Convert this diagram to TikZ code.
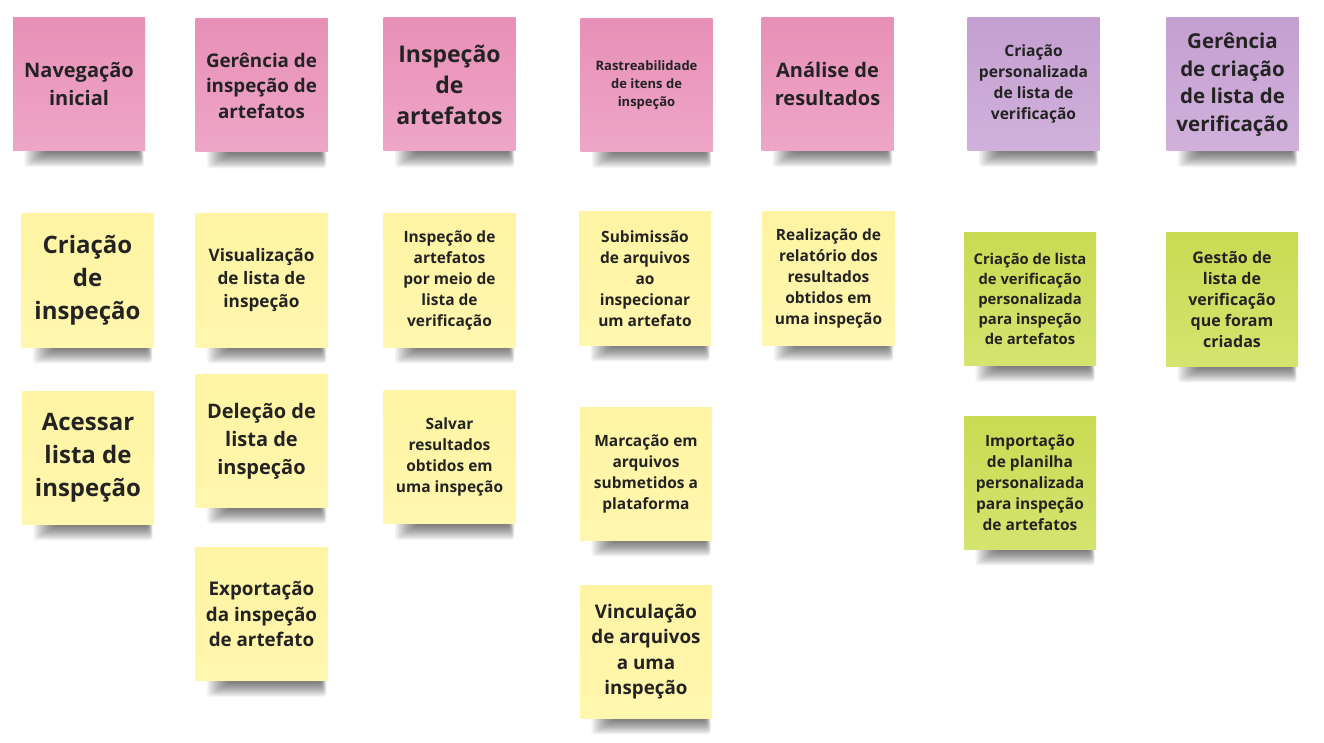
\documentclass[tikz,border=0pt]{standalone}
\usepackage{fontspec}
\setmainfont{Open Sans}
\usepackage{tikz}
\usetikzlibrary{calc,backgrounds}

\definecolor{PinkTop}{HTML}{E890B7}
\definecolor{PinkBot}{HTML}{EEA6C7}
\definecolor{LilacTop}{HTML}{C49FD0}
\definecolor{LilacBot}{HTML}{D1B1DC}
\definecolor{YellowTop}{HTML}{FEF4A3}
\definecolor{YellowBot}{HTML}{FFF7AE}
\definecolor{GreenTop}{HTML}{C9DA52}
\definecolor{GreenBot}{HTML}{D4E470}
\definecolor{NoteText}{HTML}{232323}

\newcommand\fsz[2]{\fontsize{#1}{#2}\selectfont}
\newcommand\noteshadow[1]{% note name

  \foreach \k in {1,...,16}
    \fill[black,opacity=0.038,rounded corners=3pt] ($(#1.south west)+(34-1.4*\k,-3)$) rectangle ($(#1.south east)+(-7+0.35*\k,1+0.95*\k)$);

}

\begin{document}
\begin{tikzpicture}[x=1pt,y=-1pt]
		\tikzstyle{note}=[minimum width=132pt, minimum height=133pt,
								  inner sep=0pt, align=center, text=NoteText]
		\tikzstyle{pink}=[note,top color=PinkTop,bottom color=PinkBot]
		\tikzstyle{lilac}=[note,top color=LilacTop,bottom color=LilacBot]
		\tikzstyle{yellow}=[note,top color=YellowTop,bottom color=YellowBot]
		\tikzstyle{green}=[note,top color=GreenTop,bottom color=GreenBot]

		\tikzstyle{txtXL}=[font=\bfseries\fsz{24}{33}]
		\tikzstyle{txtL}=[font=\bfseries\fsz{20}{27.5}]
		\tikzstyle{txtM}=[font=\bfseries\fsz{18.8}{25.5}]
		\tikzstyle{txtS}=[font=\bfseries\fsz{17.2}{23}]
		\tikzstyle{txtXS}=[font=\bfseries\fsz{15.5}{21}]

\useasboundingbox (0,0) rectangle (1324,743);

% first row: the themes
\node[pink,txtL] at (79,84) (navegacao) {Navega\c{c}\~ao\\inicial};
\node[pink,txtM] at (261.5,85.5) (gerinsp) {Ger\^encia de\\inspe\c{c}\~ao de\\artefatos};
\node[pink,font=\bfseries\fsz{23}{31}] at (449.5,84.5) (inspart) {Inspe\c{c}\~ao\\de\\artefatos};
\node[pink,font=\bfseries\fsz{13}{18}] at (646.5,85) (rastreab) {Rastreabilidade\\de itens de\\inspe\c{c}\~ao};
\node[pink,txtL] at (827.5,84) (analise) {An\'alise de\\resultados};
\node[lilac,font=\bfseries\fsz{15.6}{21}] at (1033.5,84) (criapers) {Cria\c{c}\~ao\\personalizada\\de lista de\\verifica\c{c}\~ao};
\node[lilac,font=\bfseries\fsz{20.5}{27.7}] at (1232.5,84.5) (gercria) {Ger\^encia\\de cria\c{c}\~ao\\de lista de\\verifica\c{c}\~ao};

% second row
\node[yellow,txtXL] at (87.5,280.5) (criainsp) {Cria\c{c}\~ao\\de\\inspe\c{c}\~ao};
\node[yellow,txtS] at (261.5,280.5) (visual) {Visualiza\c{c}\~ao\\de lista de\\inspe\c{c}\~ao};
\node[yellow,txtXS] at (449.5,280.5) (inspmeio) {Inspe\c{c}\~ao de\\artefatos\\por meio de\\lista de\\verifica\c{c}\~ao};
\node[yellow,txtXS] at (645,278.5) (subm) {Subimiss\~ao\\de arquivos\\ao\\inspecionar\\um artefato};
\node[yellow,txtXS] at (828.5,278.5) (realiz) {Realiza\c{c}\~ao de\\relat\'orio dos\\resultados\\obtidos em\\uma inspe\c{c}\~ao};
\node[green,font=\bfseries\fsz{14.8}{19.8}] at (1030,299) (crialista) {Cria\c{c}\~ao de lista\\de verifica\c{c}\~ao\\personalizada\\para inspe\c{c}\~ao\\de artefatos};
\node[green,font=\bfseries\fsz{16}{21}] at (1232,299.5) (gestao) {Gest\~ao de\\lista de\\verifica\c{c}\~ao\\que foram\\criadas};

% third row
\node[yellow,txtXL] at (88,457.5) (acessar) {Acessar\\lista de\\inspe\c{c}\~ao};
\node[yellow,font=\bfseries\fsz{20}{28}] at (261.5,441) (delecao) {Dele\c{c}\~ao de\\lista de\\inspe\c{c}\~ao};
\node[yellow,txtXS] at (449.5,457) (salvar) {Salvar\\resultados\\obtidos em\\uma inspe\c{c}\~ao};
\node[yellow,txtXS] at (646,473.5) (marcacao) {Marca\c{c}\~ao em\\arquivos\\submetidos a\\plataforma};
\node[green,txtXS] at (1030,482.5) (importa) {Importa\c{c}\~ao\\de planilha\\personalizada\\para inspe\c{c}\~ao\\de artefatos};

% fourth row
\node[yellow,txtM] at (261.5,614) (exporta) {Exporta\c{c}\~ao\\da inspe\c{c}\~ao\\de artefato};
\node[yellow,txtM] at (646,651.5) (vincula) {Vincula\c{c}\~ao\\de arquivos\\a uma\\inspe\c{c}\~ao};

\begin{scope}[on background layer]
  \fill[white] (0,0) rectangle (1324,743);
  \foreach \n in {navegacao,gerinsp,inspart,rastreab,analise,criapers,gercria,
                  criainsp,visual,inspmeio,subm,realiz,crialista,gestao,
                  acessar,delecao,salvar,marcacao,importa,exporta,vincula}
  {
    \noteshadow{\n}
  }
\end{scope}

\end{tikzpicture}
\end{document}
